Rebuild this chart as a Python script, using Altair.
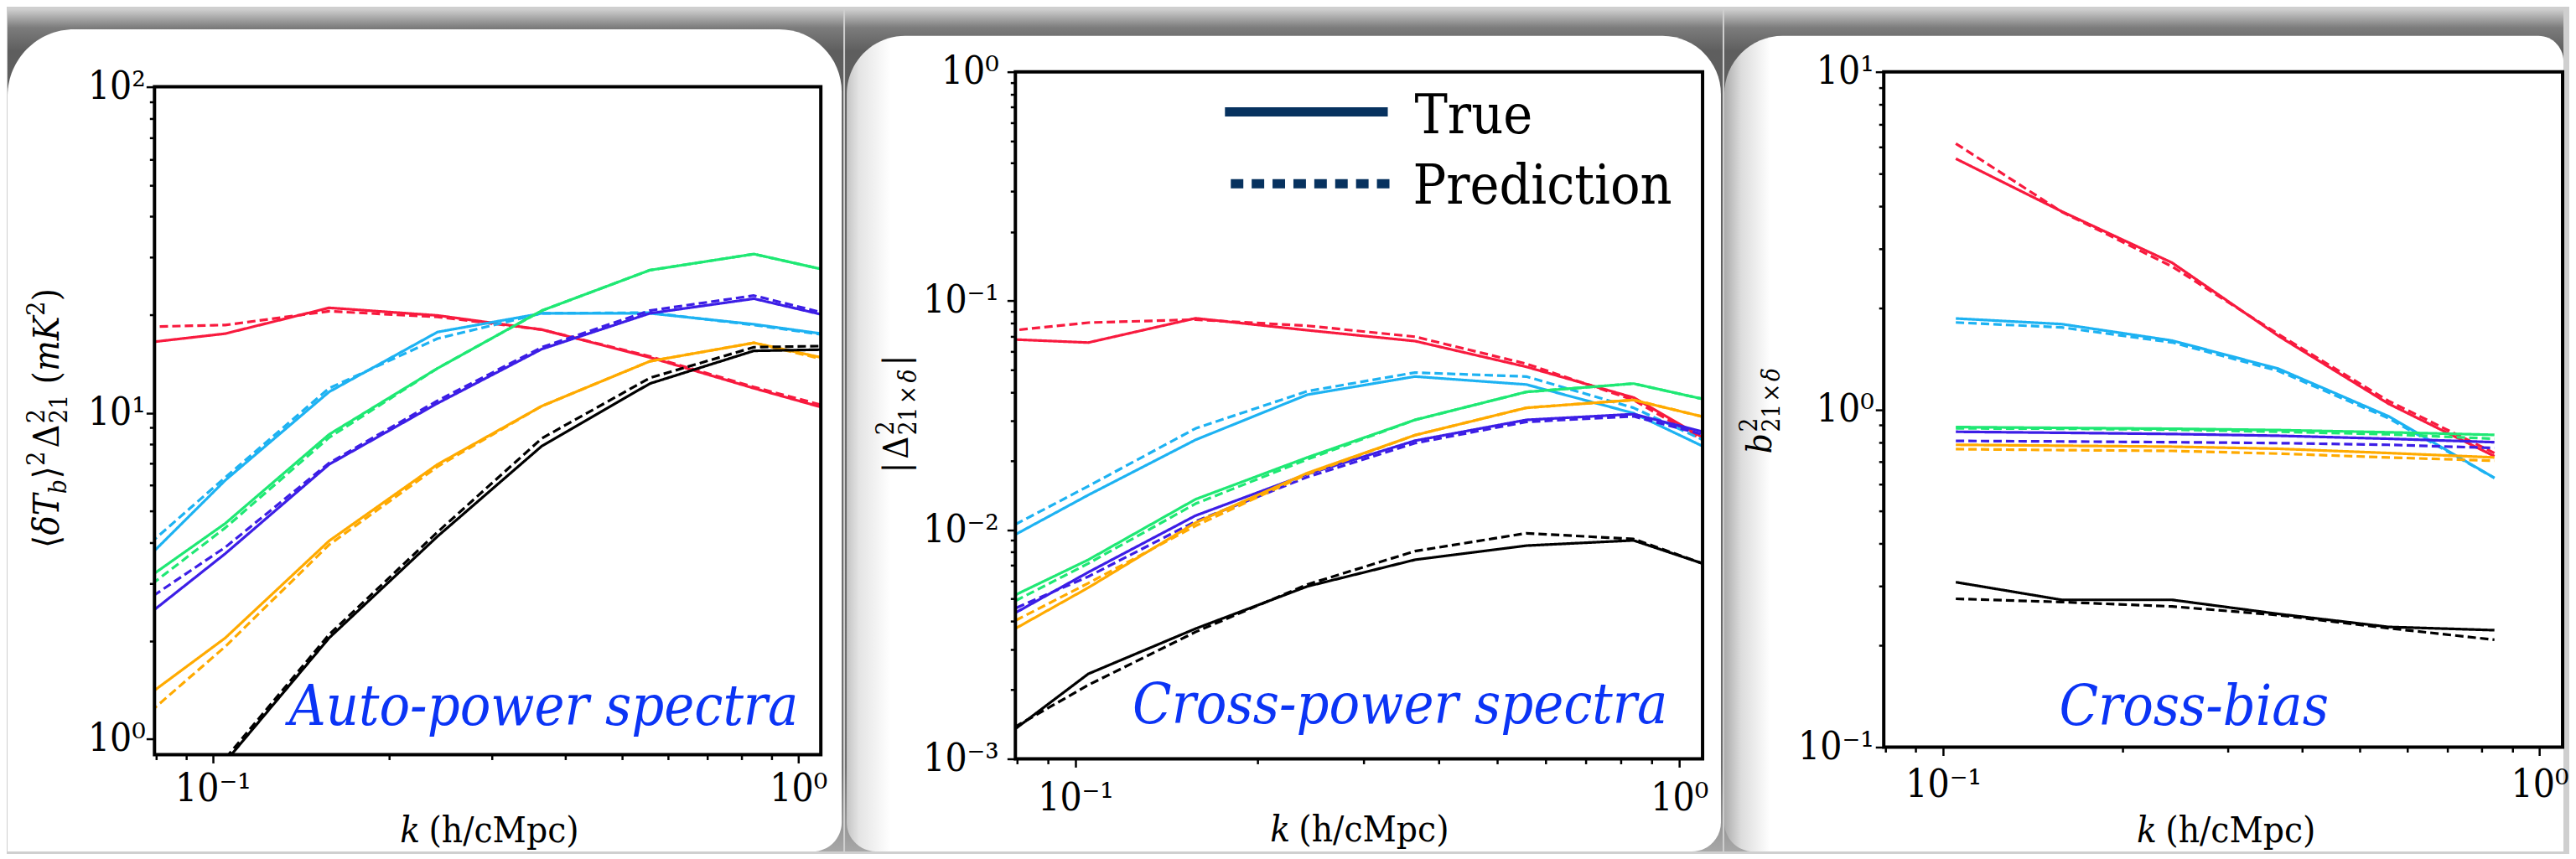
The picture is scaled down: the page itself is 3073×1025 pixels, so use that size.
import altair as alt
import pandas as pd

# ---------------- data ----------------
K_BINS = [0.07, 0.105, 0.158, 0.242, 0.365, 0.558, 0.84, 1.26]
K_BIAS = [0.105, 0.158, 0.242, 0.365, 0.558, 0.84]
SERIES = ["red", "cyan", "green", "blue", "orange", "black"]
SERIES_COLORS = ["#f81a3e", "#1db2f2", "#1fe874", "#3c1ee6", "#ffaa00", "#000000"]
SERIES_WIDTH = [3.2, 3.2, 3.2, 3.2, 3.2, 4.5]

AUTO_TRUE = {
    "red":    [16.1, 17.5, 21.0, 19.9, 18.0, 14.8, 11.9, 9.7],
    "cyan":   [3.01, 6.21, 11.6, 17.7, 20.2, 20.2, 18.7, 16.9],
    "green":  [2.74, 4.58, 8.59, 13.7, 20.6, 27.4, 30.7, 26.1],
    "blue":   [2.08, 3.70, 6.95, 10.7, 15.7, 20.2, 22.4, 18.9],
    "orange": [1.19, 2.04, 4.05, 6.95, 10.5, 14.4, 16.4, 14.0],
    "black":  [0.35, 0.85, 2.04, 4.18, 7.92, 12.3, 15.5, 15.7],
}
AUTO_PRED = {
    "red":    [18.3, 18.6, 20.5, 19.7, 18.0, 14.9, 12.0, 9.9],
    "cyan":   [3.35, 6.34, 11.9, 16.9, 20.2, 20.3, 18.6, 16.8],
    "green":  [2.54, 4.44, 8.40, 13.7, 20.6, 27.4, 30.7, 26.1],
    "blue":   [2.37, 3.87, 7.02, 10.9, 15.9, 20.6, 22.9, 19.1],
    "orange": [1.02, 1.92, 3.94, 6.84, 10.5, 14.4, 16.4, 13.8],
    "black":  [0.36, 0.87, 2.09, 4.31, 8.36, 12.8, 15.9, 16.1],
}
CROSS_TRUE = {
    "red":    [0.0687, 0.0657, 0.0839, 0.0744, 0.0667, 0.0515, 0.0378, 0.0204],
    "cyan":   [0.00795, 0.01419, 0.0247, 0.0389, 0.0467, 0.0431, 0.0323, 0.0194],
    "green":  [0.00442, 0.00740, 0.01359, 0.0207, 0.0302, 0.0400, 0.0435, 0.0343],
    "blue":   [0.00360, 0.00653, 0.01153, 0.0175, 0.0245, 0.0302, 0.0320, 0.0244],
    "orange": [0.00307, 0.00559, 0.01074, 0.0177, 0.0259, 0.0341, 0.0369, 0.0285],
    "black":  [0.00105, 0.00235, 0.00370, 0.00566, 0.00740, 0.00853, 0.00899, 0.00629],
}
CROSS_PRED = {
    "red":    [0.0719, 0.0803, 0.0828, 0.0778, 0.0697, 0.0531, 0.0369, 0.0199],
    "cyan":   [0.00885, 0.01552, 0.0277, 0.0403, 0.0486, 0.0467, 0.0341, 0.0208],
    "green":  [0.00412, 0.00713, 0.0130, 0.0203, 0.0302, 0.0400, 0.0435, 0.0343],
    "blue":   [0.00393, 0.00625, 0.01088, 0.0170, 0.0239, 0.0296, 0.0313, 0.0237],
    "orange": [0.00338, 0.00585, 0.0104, 0.0175, 0.0259, 0.0341, 0.0369, 0.0285],
    "black":  [0.00114, 0.00210, 0.00358, 0.00577, 0.00807, 0.00966, 0.00912, 0.00624],
}
BIAS_TRUE = {
    "red":    [5.53, 3.86, 2.72, 1.65, 1.04, 0.727],
    "cyan":   [1.86, 1.79, 1.60, 1.32, 0.955, 0.627],
    "green":  [0.887, 0.882, 0.877, 0.869, 0.856, 0.841],
    "blue":   [0.859, 0.853, 0.846, 0.836, 0.819, 0.800],
    "orange": [0.786, 0.781, 0.776, 0.765, 0.743, 0.721],
    "black":  [0.308, 0.273, 0.273, 0.248, 0.227, 0.222],
}
BIAS_PRED = {
    "red":    [6.13, 3.85, 2.65, 1.67, 1.06, 0.743],
    "cyan":   [1.81, 1.75, 1.58, 1.30, 0.942, 0.627],
    "green":  [0.879, 0.877, 0.871, 0.859, 0.844, 0.819],
    "blue":   [0.807, 0.804, 0.800, 0.795, 0.786, 0.769],
    "orange": [0.763, 0.758, 0.754, 0.740, 0.721, 0.705],
    "black":  [0.275, 0.269, 0.261, 0.246, 0.225, 0.208],
}

X_DOMAIN = [0.0795, 1.093]
X_TICKS = [0.08, 0.09, 0.1, 0.2, 0.3, 0.4, 0.5, 0.6, 0.7, 0.8, 0.9, 1.0]
Y1_TICKS = [1, 2, 3, 4, 5, 6, 7, 8, 9, 10, 20, 30, 40, 50, 60, 70, 80, 90, 100]
Y2_TICKS = [0.001, 0.002, 0.003, 0.004, 0.005, 0.006, 0.007, 0.008, 0.009,
            0.01, 0.02, 0.03, 0.04, 0.05, 0.06, 0.07, 0.08, 0.09,
            0.1, 0.2, 0.3, 0.4, 0.5, 0.6, 0.7, 0.8, 0.9, 1.0]
Y3_TICKS = [0.1, 0.2, 0.3, 0.4, 0.5, 0.6, 0.7, 0.8, 0.9,
            1, 2, 3, 4, 5, 6, 7, 8, 9, 10]

SERIF = "DejaVu Serif Condensed, DejaVu Serif"
NAVY = "#07325f"
ANNOT_BLUE = "#0b34f5"

DECO = pd.DataFrame({"d": [0]})


def long_df(ks, true_d, pred_d):
    rows = []
    for s in SERIES:
        for kk, v in zip(ks, true_d[s]):
            rows.append({"k": kk, "v": v, "series": s, "kind": "True"})
        for kk, v in zip(ks, pred_d[s]):
            rows.append({"k": kk, "v": v, "series": s, "kind": "Prediction"})
    return pd.DataFrame(rows)


MAJOR = "abs(log(datum.value)/LN10 - round(log(datum.value)/LN10)) < 0.001"
LABEL_EXPR = ("(" + MAJOR + ") ? ['10\u207b\u00b3','10\u207b\u00b2','10\u207b\u00b9','10\u2070','10\u00b9','10\u00b2']"
              "[round(log(datum.value)/LN10)+3] : ''")


def make_axis(values, padding):
    return alt.Axis(
        values=values, labelExpr=LABEL_EXPR, title=None, grid=False, domain=False,
        tickSize={"condition": {"test": MAJOR, "value": 10}, "value": 6},
        tickWidth=2.5, tickColor="black", labelColor="black",
        labelFont=SERIF, labelFontSize=46, labelPadding=padding,
        labelOverlap=False, labelFlush=False, zindex=1,
    )


def rect_layer(x1, x2, y1, y2, **kw):
    return alt.Chart(DECO).mark_rect(**kw).encode(
        x=alt.value(x1), x2=alt.value(x2), y=alt.value(y1), y2=alt.value(y2))


def text_layer(text, x, y, **kw):
    return alt.Chart(DECO).mark_text(text=text, font=SERIF, **kw).encode(
        x=alt.value(x), y=alt.value(y))


def composite(segs, x, y, angle, center):
    """segs: (text, size, shift, italic, advance). Laid out along text direction."""
    total = sum(s[4] for s in segs)
    layers = []
    off = 0.0
    if angle == 270:
        ax, ay = x, center + total / 2.0
    else:
        ax, ay = center - total / 2.0, y
    for text, size, shift, italic, adv in segs:
        layers.append(text_layer(text, ax, ay, fontSize=size,
                                 fontStyle="italic" if italic else "normal",
                                 angle=angle, align="left", baseline="alphabetic",
                                 dx=off, dy=shift, color="black"))
        off += adv
    return layers


def x_title(center, baseline):
    F = 44
    return composite([("k", F, 0, True, 0.78 * F),
                      ("(h/cMpc)", F, 0, False, 3.99 * F)], 0, baseline, 0, center)


def bg_gradient():
    return {"gradient": "linear", "x1": 0, "x2": 0, "y1": 0, "y2": 1,
            "stops": [{"offset": 0, "color": "#cfcfcf"},
                      {"offset": 0.022, "color": "#7c7c7c"},
                      {"offset": 0.05, "color": "#5e5e5e"},
                      {"offset": 0.9, "color": "#6a6a6a"},
                      {"offset": 0.95, "color": "#8a8a8a"},
                      {"offset": 1, "color": "#a8a8a8"}]}


def card_gradient(c0, c1, o1, o2):
    return {"gradient": "linear", "x1": 0, "x2": 1, "y1": 0, "y2": 0,
            "stops": [{"offset": 0, "color": c0},
                      {"offset": o1, "color": c1},
                      {"offset": o2, "color": "#ffffff"},
                      {"offset": 1, "color": "#ffffff"}]}


def panel(df, W, H, ydom, yticks, g):
    top = g.get("top", 0)
    layers = []
    tx, ty = g["tile"]
    layers.append(rect_layer(tx[0], tx[1], ty[0], ty[1], fill=bg_gradient()))
    cx, cy = g["card"]
    layers.append(rect_layer(cx[0], cx[1], cy[0], cy[1], fill=g["card_fill"],
                             cornerRadiusTopLeft=g["radii"][0],
                             cornerRadiusTopRight=g["radii"][1],
                             cornerRadiusBottomRight=g["radii"][2],
                             cornerRadiusBottomLeft=g["radii"][3]))
    lines = alt.Chart(df).mark_line(clip=True, strokeJoin="round").encode(
        x=alt.X("k:Q", scale=alt.Scale(type="log", domain=X_DOMAIN, nice=False),
                axis=make_axis(X_TICKS, g["xpad"])),
        y=alt.Y("v:Q", scale=alt.Scale(type="log", domain=ydom, nice=False, range=[H, top]),
                axis=make_axis(yticks, g["ypad"])),
        color=alt.Color("series:N", scale=alt.Scale(domain=SERIES, range=SERIES_COLORS), legend=None),
        strokeDash=alt.StrokeDash("kind:N", scale=alt.Scale(domain=["True", "Prediction"],
                                                             range=[[1, 0], [10, 5]]), legend=None),
        strokeWidth=alt.StrokeWidth("series:N", scale=alt.Scale(domain=SERIES, range=SERIES_WIDTH),
                                    legend=None),
    )
    layers.append(lines)
    layers.extend(g.get("extra", []))
    at = g["annot"]
    layers.append(text_layer(at[0], at[1], at[2], fontSize=68, fontStyle="italic",
                             align=at[3], baseline="alphabetic", color=ANNOT_BLUE))
    layers.extend(x_title(g["xtitle"][0], g["xtitle"][1]))
    layers.extend(g["ytitle"])
    layers.append(rect_layer(0, W, top, H, fillOpacity=0, stroke="black", strokeWidth=4))
    return alt.layer(*layers).properties(width=W, height=H)


# ---------------- y titles (advances in em for DejaVu Serif Condensed) ----------------
def ytitle1():
    F = 43; S = 0.7 * F; SUP = -0.40 * F; SUB = 0.22 * F
    segs = [("\u27e8", F, 0, False, 0.36 * F),
            ("\u03b4T", F, 0, True, 1.15 * F),
            ("b", S, SUB, True, 0.42 * F),
            ("\u27e9", F, 0, False, 0.36 * F),
            ("2", S, SUP, False, 0.50 * F),
            ("\u0394", F, 0, False, 0.68 * F),
            ("2", S, SUP, False, 0),
            ("21", S, 0.25 * F, False, 1.10 * F),
            ("(", F, 0, False, 0.36 * F),
            ("mK", F, 0, True, 1.54 * F),
            ("2", S, SUP, False, 0.41 * F),
            (")", F, 0, False, 0.35 * F)]
    return composite(segs, -115, 0, 270, 415)


def ytitle2():
    F = 42; S = 0.7 * F; SUP = -0.40 * F; SUB = 0.25 * F
    segs = [("|", F, 0, False, 0.40 * F),
            ("\u0394", F, 0, False, 0.68 * F),
            ("2", S, SUP, False, 0),
            ("21", S, SUB, False, 0.88 * F),
            ("\u00d7", S, SUB, False, 0.62 * F),
            ("\u03b4", S, SUB, True, 0.48 * F),
            ("|", F, 0, False, 0.30 * F)]
    return composite(segs, -129, 0, 270, 410)


def ytitle3():
    F = 42; S = 0.7 * F; SUP = -0.40 * F; SUB = 0.25 * F
    segs = [("b", F, 0, True, 0.61 * F),
            ("2", S, SUP, False, 0),
            ("21", S, SUB, False, 0.86 * F),
            ("\u00d7", S, SUB, False, 0.59 * F),
            ("\u03b4", S, SUB, True, 0.38 * F)]
    return composite(segs, -135, 0, 270, 406)


legend_layers = [
    alt.Chart(DECO).mark_rule(strokeWidth=11, color=NAVY, strokeCap="butt").encode(
        x=alt.value(251), x2=alt.value(446), y=alt.value(48)),
    alt.Chart(DECO).mark_rule(strokeWidth=11, color=NAVY, strokeCap="butt",
                              strokeDash=[15, 10]).encode(
        x=alt.value(258), x2=alt.value(450), y=alt.value(134)),
    text_layer("True", 478, 74, fontSize=66, align="left", baseline="alphabetic", color="black"),
    text_layer("Prediction", 476, 158, fontSize=66, align="left", baseline="alphabetic", color="black"),
]

# all plot origins share page y = 83; panel 1's frame starts 18 px lower
p1 = panel(long_df(K_BINS, AUTO_TRUE, AUTO_PRED), 798, 818, [0.895, 100], Y1_TICKS, {
    "top": 18,
    "tile": ([-176, 825], [-75, 934]),
    "card": ([-176, 823], [-51, 934]),
    "card_fill": "#ffffff",
    "radii": [80, 75, 35, 0],
    "xpad": 9, "ypad": 1,
    "annot": ("Auto-power spectra", 771, 782, "right"),
    "xtitle": (399, 923),
    "ytitle": ytitle1(),
})
p2 = panel(long_df(K_BINS, CROSS_TRUE, CROSS_PRED), 823, 823, [0.001, 1], Y2_TICKS, {
    "tile": ([-204, 847], [-75, 934]),
    "card": ([-202, 845], [-43, 934]),
    "card_fill": card_gradient("#c4c4c4", "#e4e4e4", 0.014, 0.05),
    "radii": [70, 70, 35, 35],
    "xpad": 15, "ypad": 10,
    "annot": ("Cross-power spectra", 781, 780, "right"),
    "xtitle": (410, 922),
    "ytitle": ytitle2(),
    "extra": legend_layers,
})
p3 = panel(long_df(K_BIAS, BIAS_TRUE, BIAS_PRED), 813, 809, [0.1, 10], Y3_TICKS, {
    "tile": ([-191, 814], [-75, 934]),
    "card": ([-191, 814], [-43, 934]),
    "card_fill": card_gradient("#ababab", "#dcdcdc", 0.02, 0.055),
    "radii": [70, 30, 0, 35],
    "xpad": 13, "ypad": 2,
    "annot": ("Cross-bias", 210, 782, "left"),
    "xtitle": (408, 923),
    "ytitle": ytitle3(),
})

chart = alt.hconcat(p1, p2, p3, spacing=0).properties(padding=0).configure_view(
    strokeWidth=0).configure(background="#cfcfcf")

chart.save("out.html", embed_options={"renderer": "svg", "actions": False})
